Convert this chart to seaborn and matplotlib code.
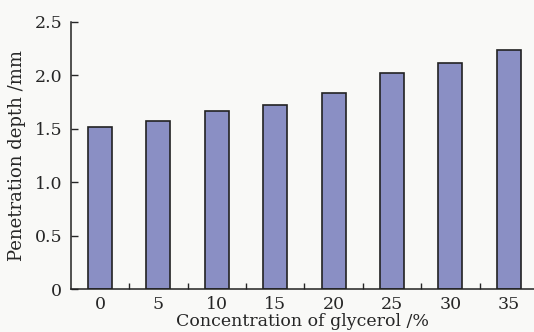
import numpy as np
import pandas as pd
import seaborn as sns
import matplotlib.pyplot as plt
from matplotlib import ticker

# glycerol concentration (%) vs penetration depth (mm)
concentration = ["0", "5", "10", "15", "20", "25", "30", "35"]
depth = [1.52, 1.57, 1.67, 1.72, 1.83, 2.02, 2.12, 2.24]

df = pd.DataFrame({"conc": concentration, "depth": depth})

sns.set_style("ticks")
plt.rcParams["font.family"] = ["DejaVu Serif"]

fig = plt.figure(figsize=(5.34, 3.32), dpi=100)
fig.patch.set_facecolor("#f9f9f7")
ax = fig.add_axes([0.1324, 0.1295, 0.8676, 0.8045])
ax.set_facecolor("#f9f9f7")

sns.barplot(data=df, x="conc", y="depth", color="#8a8fc4", saturation=1,
            width=0.41, edgecolor="#222222", linewidth=1.2, ax=ax)

ax.set_xlim(-0.5, 7.43)
ax.set_ylim(0, 2.5)
ax.set_yticks(np.arange(0, 2.51, 0.5))
ax.yaxis.set_major_formatter(ticker.FuncFormatter(lambda v, p: "0" if v == 0 else "{:.1f}".format(v)))
ax.xaxis.set_minor_locator(ticker.FixedLocator(np.arange(0.5, 7, 1)))

ax.tick_params(axis="x", which="major", length=0, pad=5, labelsize=12.5)
ax.tick_params(axis="x", which="minor", direction="in", length=4, width=1)
ax.tick_params(axis="y", direction="in", length=5, width=1, labelsize=12.5, pad=6)

for s in ["top", "right"]:
    ax.spines[s].set_visible(False)
for s in ["left", "bottom"]:
    ax.spines[s].set_linewidth(1.1)
    ax.spines[s].set_color("#222222")

ax.set_xlabel("Concentration of glycerol /%", fontsize=12.5, labelpad=0)
ax.set_ylabel("Penetration depth /mm", fontsize=13, labelpad=6)

fig.savefig("out.png", dpi=100, facecolor=fig.get_facecolor())
